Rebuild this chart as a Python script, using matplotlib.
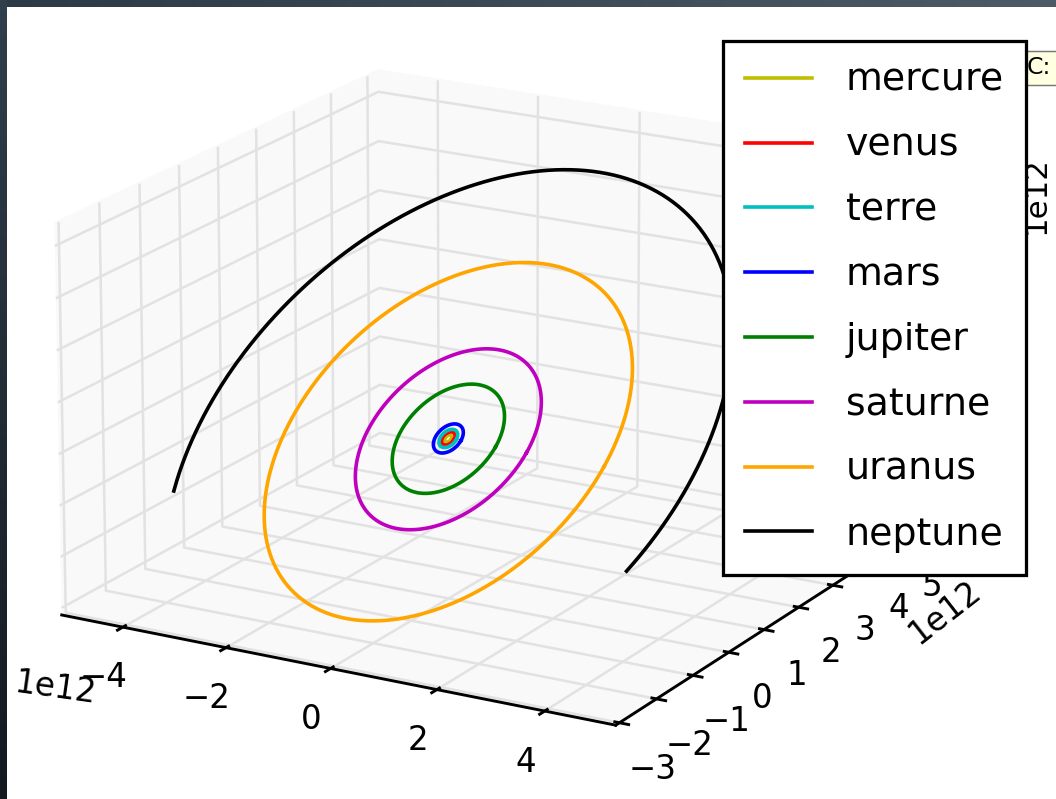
import numpy as np
import matplotlib
matplotlib.use('Agg')
import matplotlib.pyplot as plt
from matplotlib.path import Path
from matplotlib.transforms import Affine2D
from matplotlib.colors import LinearSegmentedColormap

# orbites (rayon en Gm, arc parcouru en degres)
noms = ['mercure', 'venus', 'terre', 'mars', 'jupiter', 'saturne', 'uranus', 'neptune']
couleurs = ['y', 'r', 'c', 'b', 'g', 'm', 'orange', 'k']
rayons = [58, 108, 150, 240, 900, 1490, 2950, 4550]
debut = [0, 0, 0, 0, 0, 0, 0, -19]
fin = [360, 360, 360, 360, 360, 360, 360, 200]
inclinaison = 23.44  # repere equatorial

# limites des axes (m)
xlim = (-5.2e12, 5.3e12)
ylim = (-3.1e12, 5.3e12)
zlim = (-1.57e12, 2.21e12)

S = 2.6
plt.rcParams['font.size'] = 9
plt.rcParams['grid.color'] = '#e2e2e2'
plt.rcParams['grid.linewidth'] = 0.7

fig = plt.figure(figsize=(1056/(100*S), 799/(100*S)), dpi=100*S)
ax = fig.add_axes([0.005, -0.0885, 0.897, 1.185], projection='3d')
ax.view_init(elev=18.2, azim=-60.5)
ax.set_proj_type('persp', focal_length=1.5)
ax.set_box_aspect((1, 1, 0.648))

eps = np.radians(inclinaison)
for nom, c, r, t1, t2 in zip(noms, couleurs, rayons, debut, fin):
    p = Path.arc(t1, t2).transformed(Affine2D().scale(r))
    u, v = (p.to_polygons(closed_only=False)[0] * 1e9).T
    ax.plot(u, v*np.cos(eps), v*np.sin(eps), color=c, lw=1.0, label=nom)

ax.set_xlim(*xlim)
ax.set_ylim(*ylim)
ax.set_zlim(*zlim)
ax.tick_params(pad=0)
for a in (ax.xaxis, ax.yaxis, ax.zaxis):
    a.set_pane_color((0.975, 0.975, 0.975, 1.0))
    a.offsetText.set_visible(False)

# facteurs d'echelle des axes
fig.text(55/1056, 1-688/799, '1e12', rotation=-8, ha='center', va='center', fontsize=9)
fig.text(945/1056, 1-612/799, '1e12', rotation=38, ha='center', va='center', fontsize=9)
fig.text(1036/1056, 1-195/799, '1e12', rotation=90, ha='center', va='center', fontsize=8.5)

leg = fig.legend(loc='upper right', bbox_to_anchor=(1026/1056, 1-41/799), fontsize=10.5,
                 frameon=True, fancybox=False, framealpha=1, edgecolor='k', borderaxespad=0,
                 handlelength=1.75, handletextpad=0.9, labelspacing=0.76, borderpad=0.58)
leg.get_frame().set_linewidth(0.9)

# bulle d'info de la capture
fig.text(1027/1056, 1-68/799, 'C:', fontsize=6.5, va='center',
         bbox=dict(boxstyle='square,pad=0.25', fc='#ffffe1', ec='#777777', lw=0.4))

# bordure sombre de la capture
fond = LinearSegmentedColormap.from_list('fond', ['#2c3a45', '#4c5b67'])
bande = fig.add_axes([0, 1-7/799, 1, 7/799], zorder=10)
bande.imshow(np.linspace(0, 1, 64)[None, :], cmap=fond, aspect='auto')
bande.axis('off')
cote = LinearSegmentedColormap.from_list('cote', ['#2f3f4b', '#141920'])
bande2 = fig.add_axes([0, 0, 7/1056, 1], zorder=10)
bande2.imshow(np.linspace(0, 1, 64)[:, None], cmap=cote, aspect='auto')
bande2.axis('off')

plt.savefig('out.png', dpi=100*S)
